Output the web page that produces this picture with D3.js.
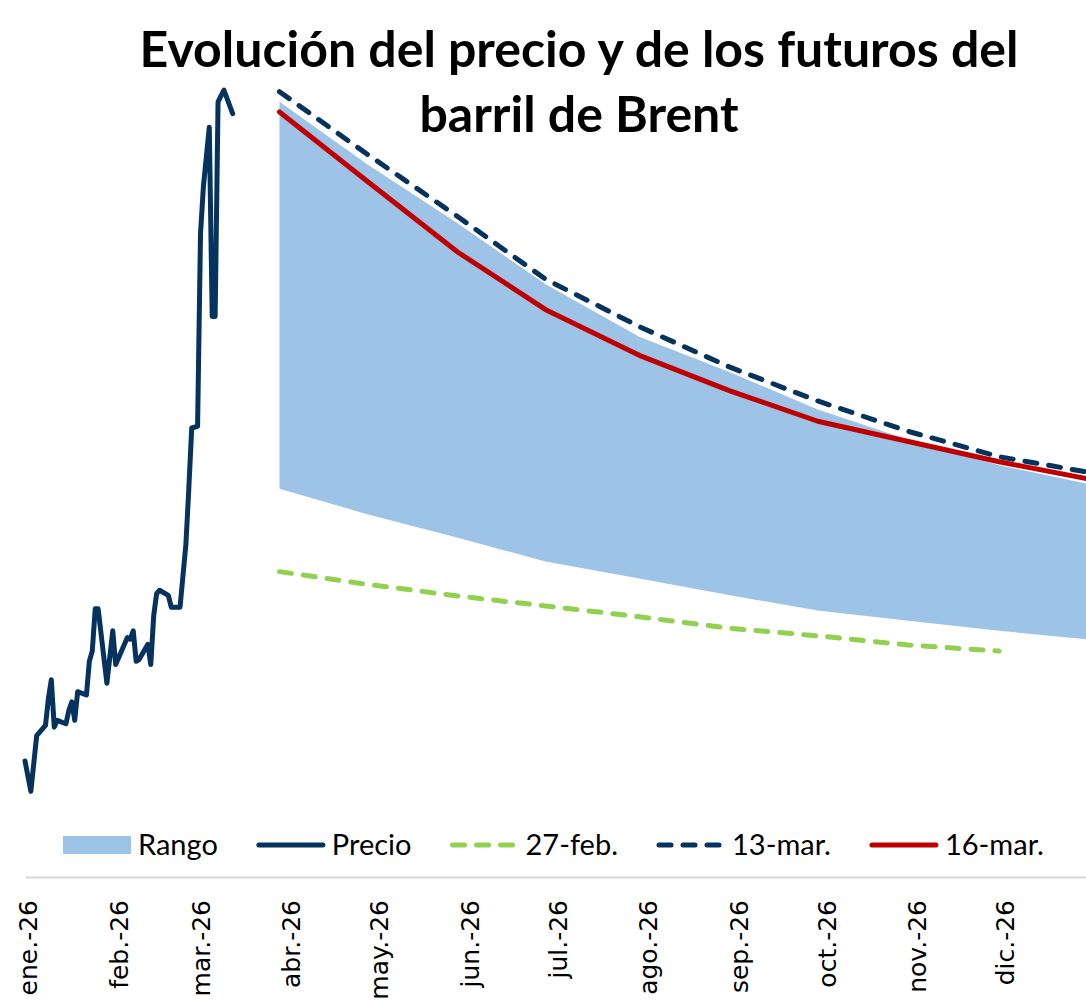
<!DOCTYPE html>
<html>
<head>
<meta charset="utf-8">
<script src="https://cdn.jsdelivr.net/npm/d3@7"></script>
<style>
    body { margin: 0; background: #fff; }
    svg { display: block; }
</style>
</head>
<body>
<div id="chart"></div>
<script>
// daily Brent price ($/bbl)
const priceDates = ["2025-12-31", "2026-01-02", "2026-01-04", "2026-01-07", "2026-01-08", "2026-01-09",
    "2026-01-10", "2026-01-11", "2026-01-14", "2026-01-15", "2026-01-16", "2026-01-17", "2026-01-18",
    "2026-01-21", "2026-01-22", "2026-01-23", "2026-01-24", "2026-01-25", "2026-01-28", "2026-01-30",
    "2026-01-31", "2026-02-02", "2026-02-04", "2026-02-05", "2026-02-06", "2026-02-07", "2026-02-08",
    "2026-02-11", "2026-02-12", "2026-02-13", "2026-02-14", "2026-02-15", "2026-02-18", "2026-02-19",
    "2026-02-22", "2026-02-24", "2026-02-25", "2026-02-26", "2026-02-28", "2026-03-01", "2026-03-02",
    "2026-03-04", "2026-03-05", "2026-03-06", "2026-03-07", "2026-03-09", "2026-03-12"];
const priceValues = [60.3, 58.5, 61.8, 62.4, 64.0, 65.1,
    62.3, 62.7, 62.5, 63.3, 63.8, 62.7, 64.4,
    64.2, 66.2, 66.8, 69.3, 69.3, 64.9, 68.0,
    66.0, 66.8, 67.6, 67.5, 68.0, 66.2, 66.3,
    67.2, 66.0, 68.9, 70.2, 70.4, 70.1, 69.4,
    69.4, 73.1, 76.4, 80.0, 80.1, 91.5, 94.3,
    97.8, 86.6, 86.6, 99.3, 100.0, 98.6];

// futures curves
const futureDates = ["2026-03-28", "2026-04-27", "2026-05-28", "2026-06-27", "2026-07-29",
    "2026-08-29", "2026-09-28", "2026-10-29", "2026-11-29", "2026-12-29"];
const rangoMax = [99.3, 95.6, 92.1, 88.5, 85.4, 83.3, 81.1, 79.3, 77.8, 76.7];
const rangoMin = [76.4, 74.9, 73.5, 72.1, 71.1, 70.1, 69.2, 68.6, 68.0, 67.5];
const fut27feb = [71.5, 70.75, 70.06, 69.47, 68.83, 68.15, 67.7, 67.16, 66.8];
const fut13mar = [99.9, 96.2, 92.5, 88.8, 86.0, 83.6, 81.6, 79.8, 78.3, 77.4];
const fut16mar = [98.7, 94.6, 90.4, 87.0, 84.3, 82.2, 80.4, 79.2, 78.0, 77.0];

const monthLabels = ["ene.-26", "feb.-26", "mar.-26", "abr.-26", "may.-26", "jun.-26",
    "jul.-26", "ago.-26", "sep.-26", "oct.-26", "nov.-26", "dic.-26"];
const legendLabels = ["Rango", "Precio", "27-feb.", "13-mar.", "16-mar."];
const titleLines = ["Evolución del precio y de los futuros del", "barril de Brent"];

const navy = "#06325e", red = "#c00000", green = "#92d050", blue = "#9dc3e6";

render_chart("#chart");

function render_chart(placement) {
    const parse = d3.utcParse("%Y-%m-%d");

    var width = 1086,
        height = 1006,
        axisY = 877;

    var xScale = d3.scaleUtc()
        .domain([parse("2025-12-31"), parse("2027-01-01")])
        .range([25, 1095.6]);

    var yScale = d3.scaleLinear()
        .domain([60, 100])
        .range([766, 90]);

    var svg = d3.select(placement).append("svg")
        .attr("width", width)
        .attr("height", height);

    const price = priceDates.map((d, i) => ({date: parse(d), value: priceValues[i]}));
    const futures = futureDates.map((d, i) => ({
        date: parse(d),
        hi: rangoMax[i],
        lo: rangoMin[i],
        f27: fut27feb[i],
        f13: fut13mar[i],
        f16: fut16mar[i]
    }));

    const area_rango = d3.area()
        .x(d => xScale(d.date))
        .y0(d => yScale(d.lo))
        .y1(d => yScale(d.hi));

    const lineOf = key => d3.line()
        .x(d => xScale(d.date))
        .y(d => yScale(d[key]));

    svg.append("path")
        .attr("fill", blue)
        .attr("d", area_rango(futures));

    svg.append("path")
        .attr("d", d3.line().x(d => xScale(d.date)).y(d => yScale(d.value))(price))
        .attr("stroke", navy)
        .attr("stroke-width", 5)
        .attr("stroke-linejoin", "round")
        .attr("stroke-linecap", "round")
        .attr("fill", "none");

    svg.append("path")
        .attr("d", lineOf("f27")(futures.filter(d => d.f27 != null)))
        .attr("stroke", green)
        .attr("stroke-width", 5)
        .attr("stroke-dasharray", "12,12")
        .attr("stroke-linecap", "round")
        .attr("fill", "none");

    svg.append("path")
        .attr("d", lineOf("f13")(futures))
        .attr("stroke", navy)
        .attr("stroke-width", 5)
        .attr("stroke-dasharray", "12,12")
        .attr("stroke-linecap", "round")
        .attr("fill", "none");

    svg.append("path")
        .attr("d", lineOf("f16")(futures))
        .attr("stroke", red)
        .attr("stroke-width", 5)
        .attr("stroke-linejoin", "round")
        .attr("stroke-linecap", "round")
        .attr("fill", "none");

    // x axis, month ticks
    var xAxis = d3.axisBottom()
        .scale(xScale)
        .tickValues(d3.utcMonth.range(parse("2026-01-01"), parse("2027-01-01")))
        .tickSize(0)
        .tickSizeOuter(0)
        .tickFormat((d, i) => monthLabels[i]);

    const gx = svg.append("g")
        .attr("transform", "translate(0," + axisY + ")")
        .call(xAxis);

    gx.select(".domain")
        .attr("stroke", "#d9d9d9")
        .attr("stroke-width", 2);

    gx.selectAll(".tick text")
        .attr("font-family", "'DejaVu Sans', sans-serif")
        .attr("font-size", 25)
        .attr("fill", "#000")
        .attr("text-anchor", "end")
        .attr("transform", "translate(0,23) rotate(-90)")
        .attr("x", 0)
        .attr("y", 0)
        .attr("dy", "0.35em");

    // title
    svg.append("g")
        .selectAll("text")
        .data(titleLines)
        .join("text")
        .attr("x", 579)
        .attr("y", (d, i) => 67 + i * 65)
        .attr("text-anchor", "middle")
        .attr("font-family", "Lato, sans-serif")
        .attr("font-weight", "bold")
        .attr("font-size", 50)
        .attr("fill", "#000")
        .text(d => d);

    // legend
    const legend = svg.append("g")
        .attr("transform", "translate(62,845)")
        .attr("font-family", "Lato, sans-serif")
        .attr("font-size", 29);

    let lx = 0;
    legendLabels.forEach((label, i) => {
        const item = legend.append("g").attr("transform", "translate(" + lx + ",0)");
        if (i === 0) {
            item.append("rect")
                .attr("x", 1).attr("y", -9)
                .attr("width", 68).attr("height", 18)
                .attr("fill", blue);
        } else {
            item.append("line")
                .attr("x1", 3).attr("x2", 67)
                .attr("y1", 0).attr("y2", 0)
                .attr("stroke", [null, navy, green, navy, red][i])
                .attr("stroke-width", 5)
                .attr("stroke-linecap", "round")
                .attr("stroke-dasharray", (i === 2 || i === 3) ? "12,12" : null);
        }
        const t = item.append("text")
            .attr("x", 76)
            .attr("dy", "0.36em")
            .attr("fill", "#000")
            .text(label);
        lx += 76 + t.node().getComputedTextLength() + 38;
    });
}
</script>
</body>
</html>
